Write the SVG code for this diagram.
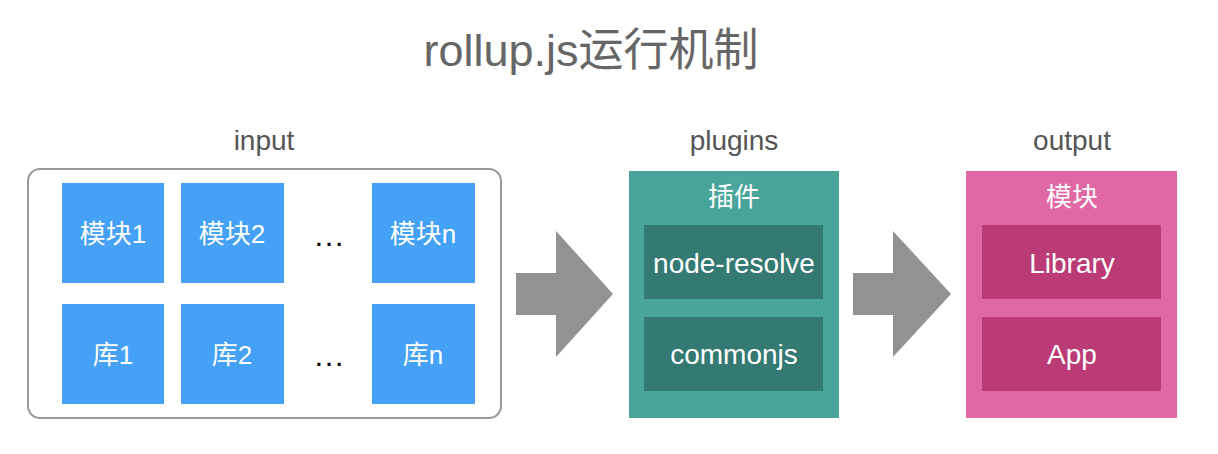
<svg xmlns="http://www.w3.org/2000/svg" width="1218" height="454" viewBox="0 0 1218 454">
<style>
text{font-family:"Liberation Sans","Noto Sans CJK SC",sans-serif;text-anchor:middle}
.title{font-size:45px;fill:#666}
.lbl{font-size:28px;fill:#555}
.bt{font-size:26px;fill:#fff}
.it{font-size:28px;fill:#fff}
.dots{font-size:32px;fill:#111}
.blue{fill:#44A1F6}
.arrow{fill:#929292}
</style>
<rect width="1218" height="454" fill="#fff"/>
<text class="title" x="591" y="66">rollup.js运行机制</text>
<text class="lbl" x="264" y="150">input</text>
<text class="lbl" x="734" y="150">plugins</text>
<text class="lbl" x="1072" y="150">output</text>
<g id="input">
<rect x="28" y="169" width="473" height="249" rx="12" fill="#fff" stroke="#999" stroke-width="2"/>
</g>
<g id="m1"><rect class="blue" x="62" y="183" width="102" height="100"/><text class="bt" x="113" y="243">模块1</text></g>
<g id="m2"><rect class="blue" x="181" y="183" width="103" height="100"/><text class="bt" x="232" y="243">模块2</text></g>
<g id="mdots"><text class="dots" x="329" y="246">…</text></g>
<g id="mn"><rect class="blue" x="372" y="183" width="103" height="100"/><text class="bt" x="423" y="243">模块n</text></g>
<g id="k1"><rect class="blue" x="62" y="304" width="102" height="100"/><text class="bt" x="113" y="364">库1</text></g>
<g id="k2"><rect class="blue" x="181" y="304" width="103" height="100"/><text class="bt" x="232" y="364">库2</text></g>
<g id="kdots"><text class="dots" x="329" y="366">…</text></g>
<g id="kn"><rect class="blue" x="372" y="304" width="103" height="100"/><text class="bt" x="423" y="364">库n</text></g>
<g id="plugins">
<rect x="629" y="171" width="210" height="247" fill="#49A59A"/>
<text class="bt" x="734" y="206">插件</text>
</g>
<g id="node-resolve"><rect x="644" y="225" width="179" height="74" fill="#357A72"/><text class="it" x="734" y="273">node-resolve</text></g>
<g id="commonjs"><rect x="644" y="317" width="179" height="74" fill="#357A72"/><text class="it" x="734" y="364">commonjs</text></g>
<g id="output">
<rect x="966" y="171" width="211" height="247" fill="#E068A4"/>
<text class="bt" x="1072" y="206">模块</text>
</g>
<g id="library"><rect x="982" y="225" width="179" height="74" fill="#BA3B76"/><text class="it" x="1072" y="273">Library</text></g>
<g id="app"><rect x="982" y="317" width="179" height="74" fill="#BA3B76"/><text class="it" x="1072" y="364">App</text></g>
<g id="connectors">
<polygon class="arrow" points="516,273 556,273 556,231 613,294 556,357 556,315 516,315"/>
<polygon class="arrow" points="853,273 893,273 893,231 951,294 893,357 893,315 853,315"/>
</g>
</svg>
